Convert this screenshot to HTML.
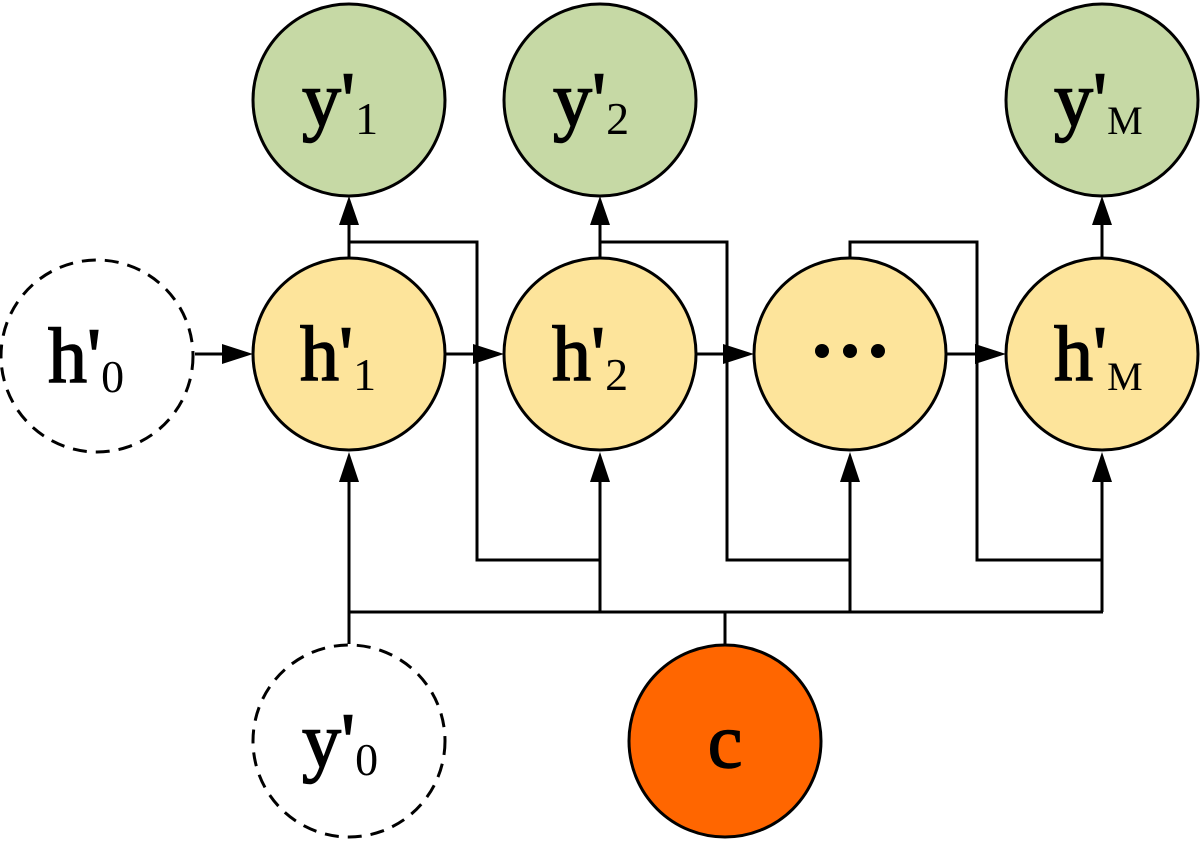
<!DOCTYPE html>
<html><head><meta charset="utf-8"><style>html,body{margin:0;padding:0;background:#fff}</style></head>
<body>
<svg width="1200" height="840" viewBox="0 0 1200 840" xmlns="http://www.w3.org/2000/svg">
<g stroke="#000" stroke-width="3" fill="none">
<line x1="349" y1="258" x2="349" y2="215"/>
<line x1="600" y1="258" x2="600" y2="215"/>
<line x1="1102" y1="258" x2="1102" y2="215"/>
<polyline points="349,242 477,242 477,560 600,560"/>
<polyline points="600,242 727,242 727,560 850,560"/>
<polyline points="850,258 850,242 977,242 977,560 1102,560"/>
<line x1="349" y1="612" x2="1103" y2="612"/>
<line x1="725" y1="612" x2="725" y2="644"/>
<line x1="349" y1="612" x2="349" y2="644"/>
<line x1="349" y1="612" x2="349" y2="475"/>
<line x1="600" y1="612" x2="600" y2="475"/>
<line x1="850" y1="612" x2="850" y2="475"/>
<line x1="1102" y1="612" x2="1102" y2="475"/>
<line x1="195" y1="354" x2="230" y2="354"/>
<line x1="445" y1="354" x2="480" y2="354"/>
<line x1="696" y1="354" x2="730" y2="354"/>
<line x1="946" y1="354" x2="985" y2="354"/>
</g>
<g fill="#000">
<polygon points="349,196 339,225 359,225"/>
<polygon points="600,196 590,225 610,225"/>
<polygon points="1102,196 1092,225 1112,225"/>
<polygon points="349,452 339,482 359,482"/>
<polygon points="600,452 590,482 610,482"/>
<polygon points="850,452 840,482 860,482"/>
<polygon points="1102,452 1092,482 1112,482"/>
<polygon points="253,354 222,344 222,364"/>
<polygon points="504,354 473,344 473,364"/>
<polygon points="754,354 723,344 723,364"/>
<polygon points="1006,354 975,344 975,364"/>
</g>
<g stroke="#000" stroke-width="3">
<circle cx="349" cy="100" r="96" fill="#c6d9a5"/>
<circle cx="600" cy="100" r="96" fill="#c6d9a5"/>
<circle cx="1102" cy="100" r="96" fill="#c6d9a5"/>
<circle cx="349" cy="354" r="96" fill="#fde49b"/>
<circle cx="600" cy="354" r="96" fill="#fde49b"/>
<circle cx="850" cy="354" r="96" fill="#fde49b"/>
<circle cx="1102" cy="354" r="96" fill="#fde49b"/>
<circle cx="725" cy="741" r="96" fill="#ff6600"/>
<circle cx="97" cy="356" r="96" fill="#fff" stroke-dasharray="14,9"/>
<circle cx="349" cy="741" r="96" fill="#fff" stroke-dasharray="14,9"/>
</g>
<g font-family="Liberation Serif, serif" fill="#000" stroke="#000" stroke-width="1.5">
<text x="302" y="126" font-size="78">y'<tspan font-size="46" stroke-width="0" dy="8">1</tspan></text>
<text x="553" y="126" font-size="78">y'<tspan font-size="46" stroke-width="0" dy="8">2</tspan></text>
<text x="1054" y="126" font-size="78">y'<tspan font-size="40" stroke-width="0" dy="8">M</tspan></text>
<text x="300" y="380" font-size="78">h'<tspan font-size="46" stroke-width="0" dy="10">1</tspan></text>
<text x="552" y="380" font-size="78">h'<tspan font-size="46" stroke-width="0" dy="10">2</tspan></text>
<text x="1054" y="380" font-size="78">h'<tspan font-size="40" stroke-width="0" dy="10">M</tspan></text>
<text x="48" y="382" font-size="78">h'<tspan font-size="46" stroke-width="0" dy="10">0</tspan></text>
<text x="302" y="767" font-size="78">y'<tspan font-size="46" stroke-width="0" dy="8">0</tspan></text>
<text x="725" y="767" font-size="78" text-anchor="middle">c</text>
</g>
<g fill="#000"><circle cx="822" cy="351" r="7"/><circle cx="850" cy="351" r="7"/><circle cx="878" cy="351" r="7"/></g>
</svg>
</body></html>
